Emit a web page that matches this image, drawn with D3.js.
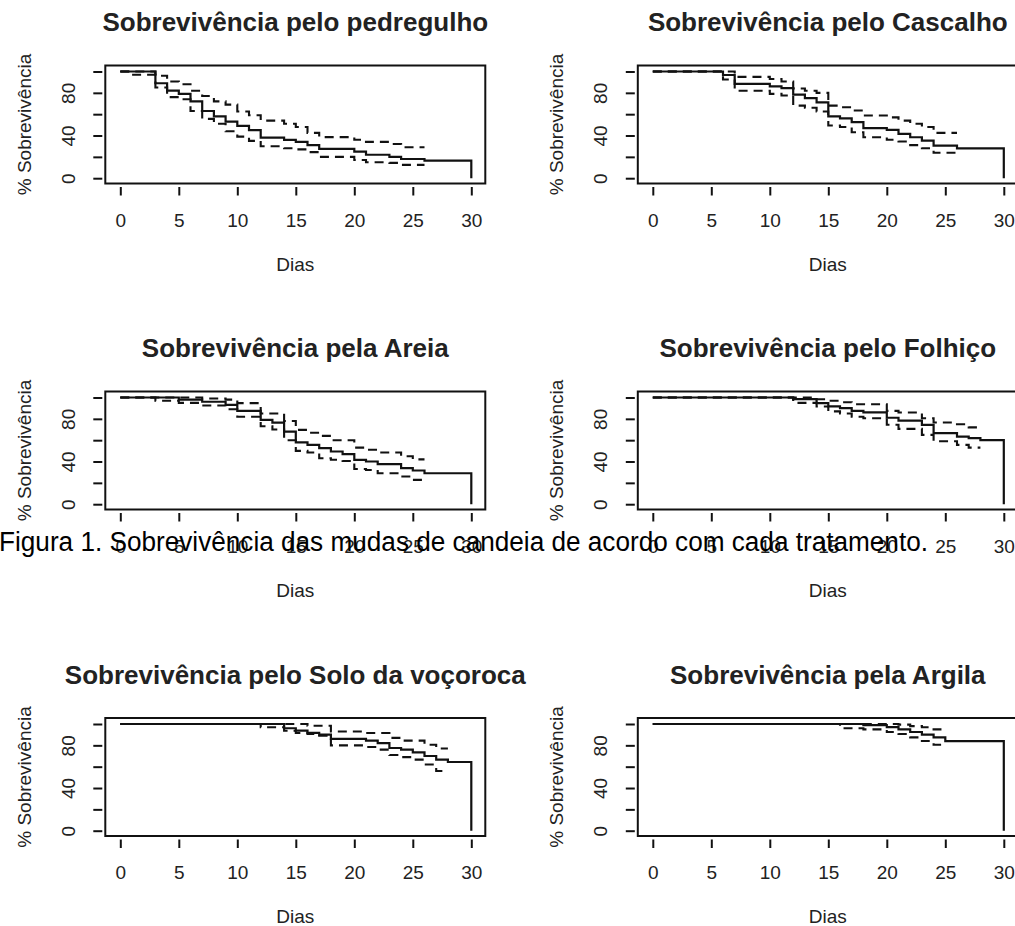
<!DOCTYPE html>
<html lang="pt">
<head>
    <meta charset="UTF-8">
    <title>Sobrevivência das mudas de candeia</title>
    <script src="https://d3js.org/d3.v7.min.js"></script>
    <style>
        body { margin: 0; background: #fff; }
        svg { display: block; }
        text { font-family: "Liberation Sans", Arial, sans-serif; fill: #222; }
        .title { font-size: 26px; font-weight: bold; }
        .lab { font-size: 19px; }
        .caption { font-size: 27px; fill: #000; }
        .km { fill: none; stroke: #111; stroke-width: 2.2px; }
        .ci { fill: none; stroke: #111; stroke-width: 2.1px; stroke-dasharray: 9 6; }
    </style>
</head>
<body>
    <svg id="chart" width="1015" height="926"></svg>

    <script>
        // Kaplan-Meier curves (% survival, day of each step)
        const titles = [
            "Sobrevivência pelo pedregulho", "Sobrevivência pelo Cascalho",
            "Sobrevivência pela Areia", "Sobrevivência pelo Folhiço",
            "Sobrevivência pelo Solo da voçoroca", "Sobrevivência pela Argila"
        ];

        const pedregulhoDias = [0, 1, 3, 4, 5, 6, 7, 8, 9, 10, 11, 12, 14, 15, 16, 17, 20, 21, 23, 24, 26, 30];
        const pedregulhoSurv = [100, 100, 89, 82, 79, 72, 63, 58, 53, 49, 45, 38, 36, 34, 31, 27.5, 25, 22, 20, 18, 16.5, 0];
        const pedregulhoSup  = [100, 100, 96, 90.6, 88, 82, 77, 72, 69, 62.5, 59, 54, 51, 48, 42.5, 38.5, 36, 34, 32, 29, 29, null];
        const pedregulhoInf  = [100, 97, 85, 76, 74, 63, 55.6, 51, 44, 39, 35, 30, 28, 27, 24.4, 20, 17, 15, 14.4, 12.5, 12.5, null];

        const cascalhoDias = [0, 6, 7, 10, 11, 12, 13, 14, 15, 16, 17, 18, 20, 21, 22, 23, 24, 26, 30];
        const cascalhoSurv = [100, 96.7, 88.4, 86, 84.4, 78.4, 75, 71, 58, 56, 52.5, 47, 45.3, 41.6, 38.4, 35.3, 30.6, 28, 0];
        const cascalhoSup  = [100, 100, 95, 93, 90.6, 84, 82, 80, 68, 66.5, 63.4, 58.8, 57, 54, 51, 48, 42.5, 42.5, null];
        const cascalhoInf  = [100, 92.5, 82, 79, 77.5, 68, 66, 62.5, 49.4, 48, 43, 38.4, 36, 34.4, 31, 28, 23.8, 23.8, null];

        const areiaDias = [0, 3, 5, 7, 9, 10, 12, 13, 14, 15, 16, 17, 18, 19, 20, 21, 22, 24, 25, 26, 30];
        const areiaSurv = [100, 100, 98, 96, 93, 87.5, 79, 76.5, 68, 58, 55.6, 52.5, 49.4, 47, 41.6, 40, 37.5, 33.8, 31.6, 29, 0];
        const areiaSup  = [100, 100, 100, 99, 98, 94.7, 85, 85, 78, 69.7, 67, 64, 60, 60, 53, 51, 48.4, 45, 42, 42, null];
        const areiaInf  = [100, 97, 95, 92.5, 89, 82, 73, 70, 60, 50, 48.4, 43, 41.6, 40.5, 33, 32, 29, 26, 22.8, 22.8, null];

        const folhicoDias = [0, 12, 14, 15, 16, 17, 18, 20, 21, 23, 24, 26, 27, 28, 30];
        const folhicoSurv = [100, 98.4, 94.7, 91.6, 90, 87.5, 86, 81, 78.4, 74.4, 66.6, 63.4, 62, 60, 0];
        const folhicoSup  = [100, 100, 98.4, 97, 95.6, 93.7, 93.7, 87.5, 86, 80.6, 76.6, 75, 72, 72, null];
        const folhicoInf  = [100, 95, 91.6, 87, 85, 82, 80.6, 74.4, 70.6, 65, 59, 55.6, 53, 53, null];

        const soloDias = [0, 12, 14, 15, 16, 17, 18, 21, 22, 23, 24, 25, 26, 27, 28, 30];
        const soloSurv = [100, 100, 96, 93.7, 91.6, 90, 86, 84.4, 82, 77.5, 76, 73.4, 70, 66.6, 64.4, 0];
        const soloSup  = [100, 100, 100, 100, 98.4, 98.4, 93, 91.5, 91.5, 87, 84.4, 84.4, 80.6, 77, 77, null];
        const soloInf  = [100, 97, 93.7, 91.6, 90.6, 89, 80, 78.4, 76, 71, 69, 66.6, 62, 56, 56, null];

        const argilaDias = [0, 16, 18, 20, 21, 22, 23, 24, 25, 30];
        const argilaSurv = [100, 100, 99, 97, 95, 92.5, 90, 87.5, 84, 0];
        const argilaSup  = [100, 100, 100, 100, 99.4, 98, 97, 95, 95, null];
        const argilaInf  = [100, 96, 95, 92.5, 90.6, 87.5, 84, 80.6, 80.6, null];

        const xTicks = [0, 5, 10, 15, 20, 25, 30];
        const yTicks = [0, 20, 40, 60, 80, 100];
        const yLabels = [0, 40, 80];
        const xTitle = "Dias";
        const yTitle = "% Sobrevivência";
        const caption = "Figura 1. Sobrevivência das mudas de candeia de acordo com cada tratamento.";

        const panels = [
            [pedregulhoDias, pedregulhoSurv, pedregulhoSup, pedregulhoInf],
            [cascalhoDias, cascalhoSurv, cascalhoSup, cascalhoInf],
            [areiaDias, areiaSurv, areiaSup, areiaInf],
            [folhicoDias, folhicoSurv, folhicoSup, folhicoInf],
            [soloDias, soloSurv, soloSup, soloInf],
            [argilaDias, argilaSurv, argilaSup, argilaInf]
        ];

        // layout of the 3x2 grid (plot box of each panel)
        const colLeft = [105.3, 637.8];
        const rowTop = [65.5, 391.5, 718];
        const boxW = 380;
        const boxH = 118;

        const svg = d3.select("#chart");
        svg.append("rect").attr("width", 1015).attr("height", 926).attr("fill", "#fff");

        panels.forEach(([dias, surv, sup, inf], i) => {
            const left = colLeft[i % 2];
            const top = rowTop[Math.floor(i / 2)];
            const bottom = top + boxH;

            const x = d3.scaleLinear().domain([0, 30]).range([left + 15, left + 366]);
            const y = d3.scaleLinear().domain([0, 100]).range([top + 112.7, top + 6]);

            const g = svg.append("g");

            g.append("rect")
                .attr("x", left).attr("y", top)
                .attr("width", boxW).attr("height", boxH)
                .attr("fill", "none").attr("stroke", "#111").attr("stroke-width", 2);

            // x axis
            const xAxis = g.append("g")
                .attr("transform", `translate(0,${bottom + 3.5})`)
                .style("color", "#111")
                .call(d3.axisBottom(x).tickValues(xTicks).tickSize(8.5).tickSizeOuter(0));
            xAxis.select(".domain").remove();
            xAxis.selectAll("line").attr("stroke-width", 2);
            xAxis.selectAll("text")
                .attr("class", "lab").attr("y", 39.5).attr("dy", null)
                .attr("font-size", null).attr("font-family", null);
            xAxis.attr("font-size", null).attr("font-family", null);

            // y axis, labels rotated like R's default
            const yAxis = g.append("g")
                .attr("transform", `translate(${left - 3},0)`)
                .style("color", "#111")
                .call(d3.axisLeft(y).tickValues(yTicks).tickSize(9).tickSizeOuter(0)
                    .tickFormat(d => (yLabels.includes(d) ? d : "")));
            yAxis.select(".domain").remove();
            yAxis.selectAll("line").attr("stroke-width", 2);
            yAxis.selectAll("text")
                .attr("class", "lab").attr("x", 0).attr("dy", null)
                .attr("text-anchor", "middle")
                .attr("transform", "translate(-27.5,0) rotate(-90)");
            yAxis.attr("font-size", null).attr("font-family", null).attr("text-anchor", null);

            g.append("text").attr("class", "title")
                .attr("x", left + boxW / 2).attr("y", top - 34.5)
                .attr("text-anchor", "middle").text(titles[i]);

            g.append("text").attr("class", "lab")
                .attr("x", left + boxW / 2).attr("y", bottom + 87)
                .attr("text-anchor", "middle").text(xTitle);

            g.append("text").attr("class", "lab")
                .attr("text-anchor", "middle")
                .attr("transform", `translate(${left - 74.5},${top + boxH / 2}) rotate(-90)`)
                .text(yTitle);

            const step = d3.line()
                .defined(d => d.v != null)
                .x(d => x(d.t))
                .y(d => y(d.v))
                .curve(d3.curveStepAfter);

            const pts = arr => dias.map((t, k) => ({ t: t, v: arr[k] }));

            g.append("path").attr("class", "ci").attr("d", step(pts(sup)));
            g.append("path").attr("class", "ci").attr("d", step(pts(inf)));
            g.append("path").attr("class", "km").attr("d", step(pts(surv)));
        });

        // the figure caption sits on top of the middle row
        svg.append("text").attr("class", "caption")
            .attr("x", -1).attr("y", 551)
            .attr("textLength", 929).attr("lengthAdjust", "spacingAndGlyphs")
            .text(caption);
    </script>
</body>
</html>
